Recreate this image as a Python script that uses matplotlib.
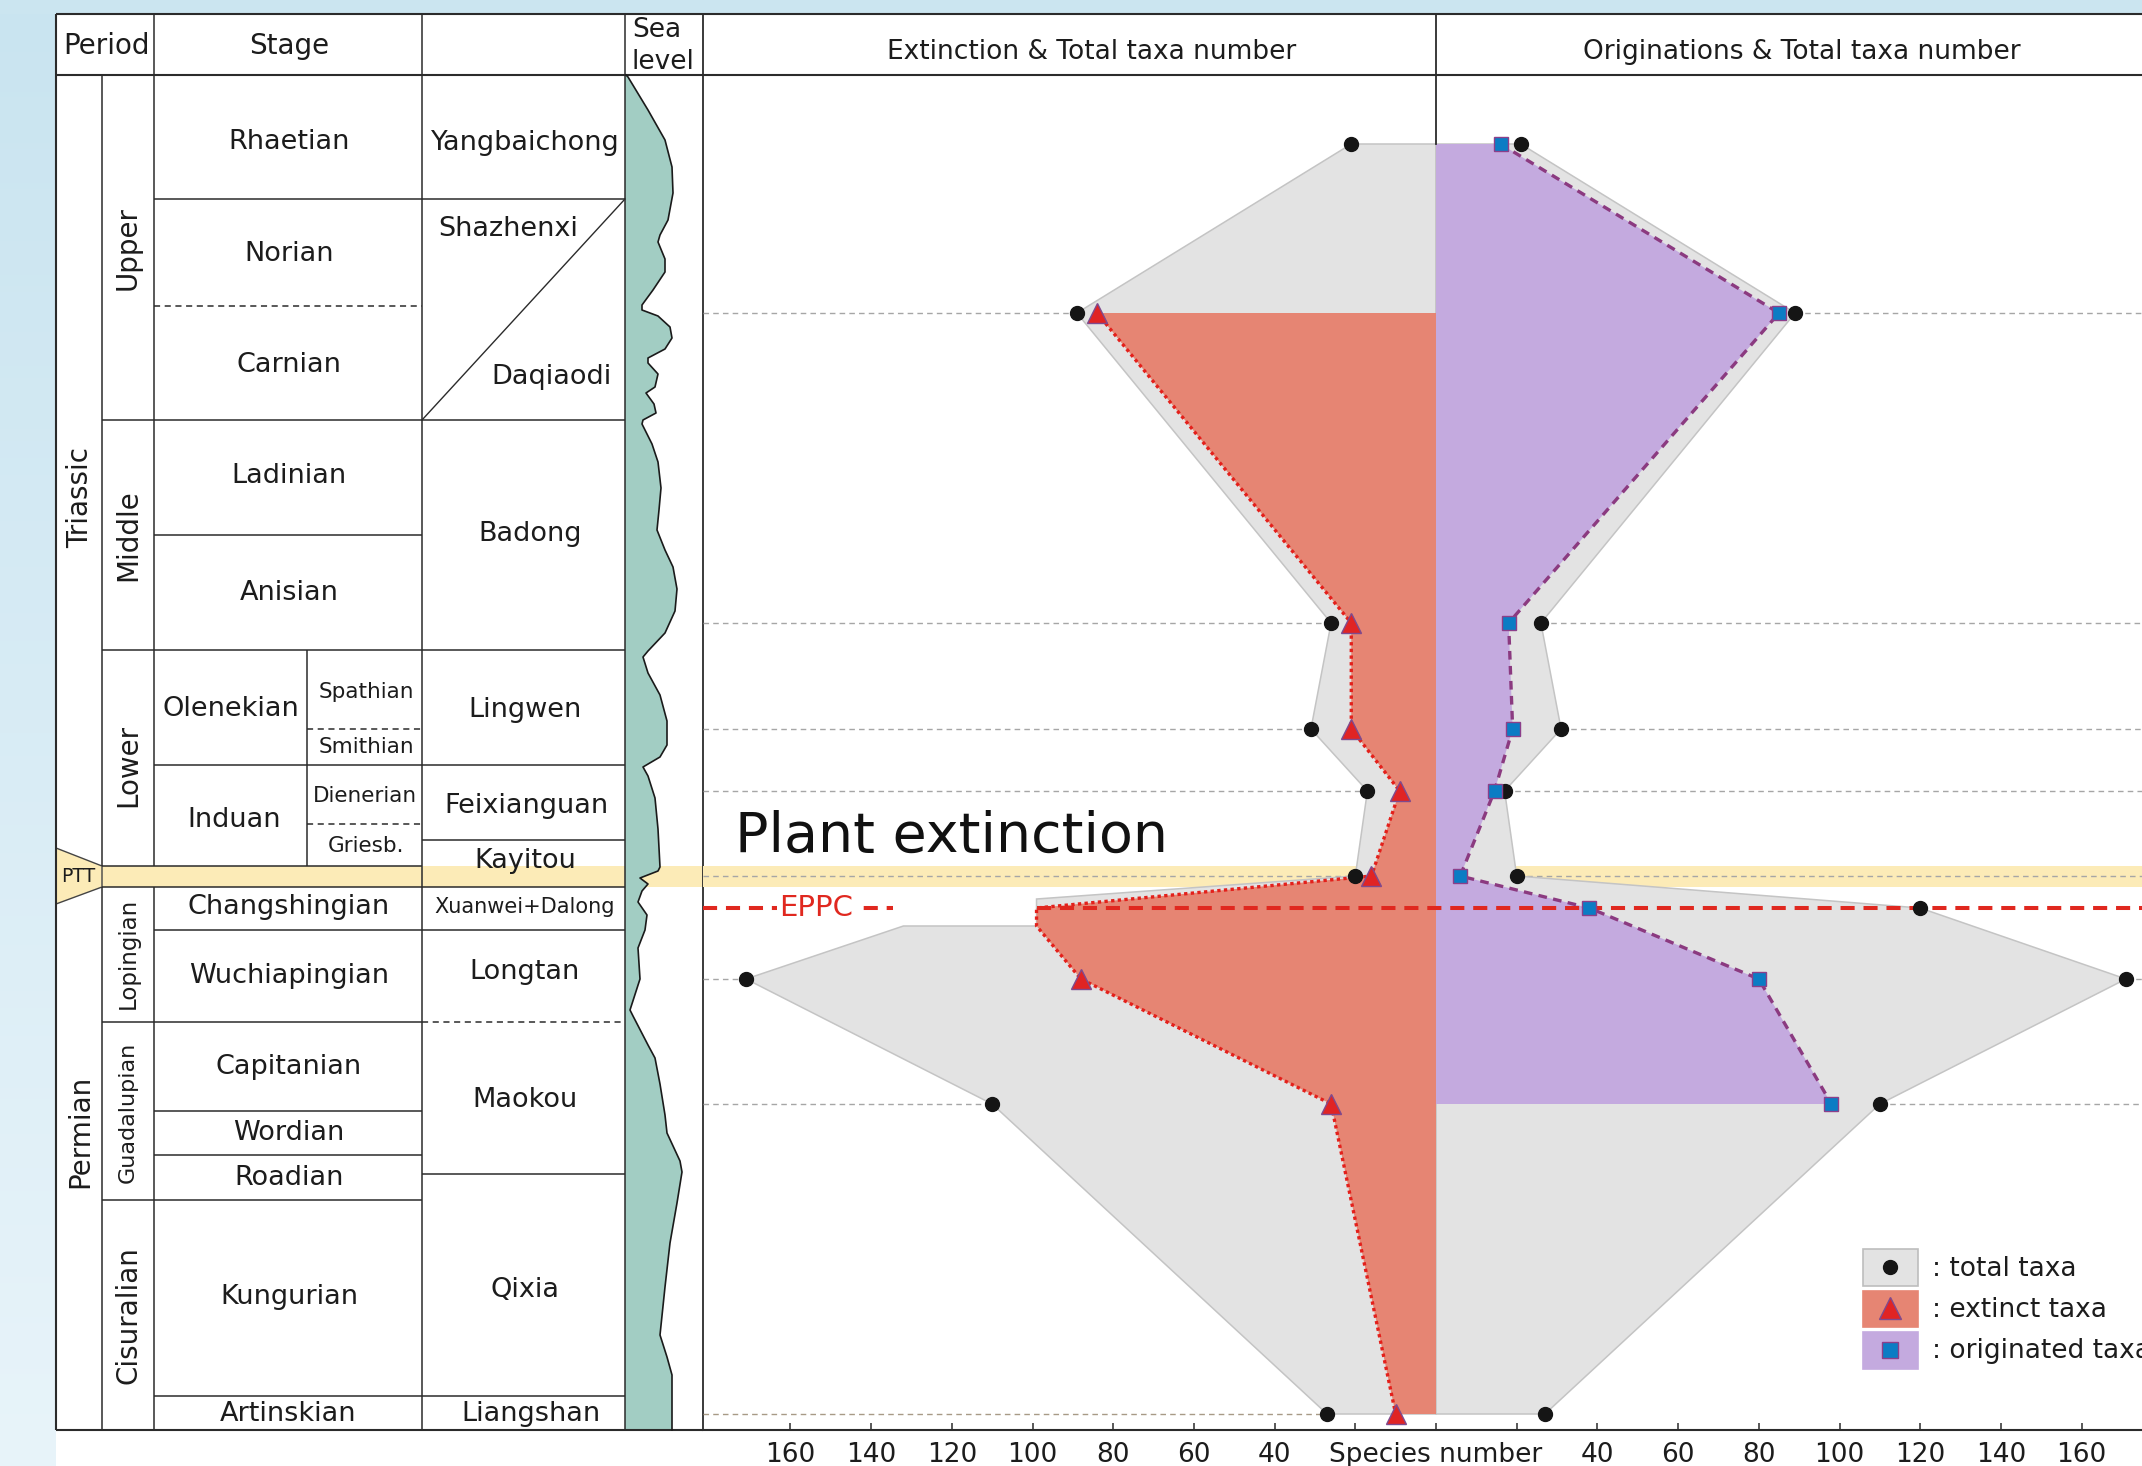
import matplotlib.pyplot as plt
import numpy as np
from matplotlib.colors import LinearSegmentedColormap
from matplotlib.patches import Polygon, Rectangle

plt.rcParams['font.family'] = 'DejaVu Sans'

W, H = 2142, 1466

# sampled horizons and their position in the stratigraphic column (top = 0)
horizons = ['Rhaetian', 'Carnian', 'Anisian', 'Smithian', 'Dienerian', 'PTB',
            'Changhsingian', 'Wuchiapingian', 'Capitanian', 'Artinskian']
levels = [144, 313, 623, 729, 791, 876, 908, 979, 1104, 1414]
total_taxa = [21, 89, 26, 31, 17, 20, 120, 171, 110, 27]
extinct_taxa = [np.nan, 84, 21, 21, 9, 16, 99, 88, 26, 10]
originated_taxa = [16, 85, 18, 19, 14.5, 6, 38, 80, 98, np.nan]

# left outline of the total-taxa field, stepping out through the Changhsingian
left_outline_levels = [144, 313, 623, 729, 791, 876, 899, 926, 926, 979, 1104, 1414]
left_outline_values = [21, 89, 26, 31, 17, 20, 99, 99, 132, 171, 110, 27]
changhsingian_base = 926

# sea-level curve in the sea-level column
sea_y = [75, 77, 110, 140, 167, 193, 220, 235, 242, 259, 272, 290, 305, 310, 316,
         327, 338, 349, 358, 363, 374, 387, 393, 404, 413, 420, 424, 444, 462, 488,
         510, 530, 550, 567, 589, 611, 633, 651, 657, 673, 695, 721, 745, 757, 767,
         776, 798, 829, 867, 871, 878, 884, 891, 902, 915, 930, 948, 979, 1010, 1016,
         1045, 1058, 1084, 1115, 1133, 1161, 1172, 1203, 1243, 1287, 1335, 1357, 1375,
         1430]
sea_x = [626, 628, 648, 665, 672, 673, 668, 660, 658, 665, 665, 653, 642, 642, 658,
         670, 672, 665, 648, 648, 658, 655, 646, 654, 656, 643, 642, 652, 658, 661,
         659, 657, 665, 673, 677, 675, 665, 648, 643, 648, 660, 667, 667, 660, 643,
         648, 655, 658, 660, 658, 640, 648, 642, 638, 647, 645, 638, 640, 630, 633,
         648, 655, 660, 665, 667, 680, 682, 677, 670, 665, 660, 667, 672, 672]

stage_labels = [('Rhaetian', 289, 142), ('Norian', 289, 254), ('Carnian', 289, 365),
                ('Ladinian', 289, 476), ('Anisian', 289, 593), ('Olenekian', 231, 709),
                ('Induan', 234, 820), ('Changshingian', 289, 907),
                ('Wuchiapingian', 289, 976), ('Capitanian', 289, 1067),
                ('Wordian', 289, 1133), ('Roadian', 289, 1178),
                ('Kungurian', 289, 1297), ('Artinskian', 288, 1414)]
substage_labels = [('Spathian', 366, 692), ('Smithian', 366, 747),
                   ('Dienerian', 365, 796), ('Griesb.', 366, 846)]
formation_labels = [('Yangbaichong', 525, 143), ('Shazhenxi', 508, 229),
                    ('Daqiaodi', 552, 377), ('Badong', 530, 534), ('Lingwen', 525, 710),
                    ('Feixianguan', 526, 806), ('Kayitou', 525, 861),
                    ('Longtan', 525, 972), ('Maokou', 525, 1100), ('Qixia', 525, 1290),
                    ('Liangshan', 531, 1414)]
series_labels = [('Upper', 248, 20), ('Middle', 535, 20), ('Lower', 765, 20),
                 ('Lopingian', 953, 16.5), ('Guadalupian', 1112, 16), ('Cisuralian', 1315, 20)]
period_labels = [('Triassic', 497), ('Permian', 1131)]

INK = '#1c1c1c'
LINE = '#2b2b2b'
GREY_FILL = '#e3e3e3'
RED_FILL = '#e68573'
PURPLE_FILL = '#c4aadf'
PTT = '#fcebb7'
TEAL = '#a2cdc3'

fig = plt.figure(figsize=(W / 100, H / 100), dpi=100)

# ---------- background, stratigraphic table, sea level ----------
bg = fig.add_axes([0, 0, 1, 1])
bg.axis('off')
edge_cmap = LinearSegmentedColormap.from_list('edge', ['#c9e4f0', '#e8f4fa'])
bg.imshow(np.linspace(0, 1, 256)[:, None], cmap=edge_cmap, extent=(0, 56, H, 0),
          aspect='auto', zorder=0)
bg.add_patch(Rectangle((0, 0), W, 14, color='#cbe5f0', lw=0, zorder=0))
bg.set_xlim(0, W)
bg.set_ylim(H, 0)

X_TAB, X_SER, X_STG, X_SUB, X_FM, X_SEA, X_CH, X_MID = 56, 102, 154, 307, 422, 625, 703, 1436
Y_TOP, Y_HEAD, Y_BOT = 14, 75, 1430
PTT_TOP, PTT_BOT = 866, 887

bg.add_patch(Rectangle((X_SER, PTT_TOP), X_CH - X_SER, PTT_BOT - PTT_TOP, color=PTT, lw=0, zorder=1))
bg.add_patch(Polygon([(X_TAB, 848), (X_SER, PTT_TOP), (X_SER, PTT_BOT), (X_TAB, 904)],
                     closed=True, fc=PTT, ec='#444444', lw=1.0, zorder=2))
bg.text(61, 877, 'PTT', fontsize=13.5, va='center', ha='left', color=INK, zorder=5)


def hline(y, x0, x1, dashed=False, lw=1.1):
    bg.plot([x0, x1], [y, y], color=LINE, lw=lw, ls=(0, (4, 3)) if dashed else '-',
            solid_capstyle='butt', zorder=3)


def vline(x, y0, y1, lw=1.1):
    bg.plot([x, x], [y0, y1], color=LINE, lw=lw, solid_capstyle='butt', zorder=3)


# outer frame and header rule
hline(Y_TOP, X_TAB, W, lw=1.5)
hline(Y_HEAD, X_TAB, W, lw=1.5)
hline(Y_BOT, X_TAB, X_CH, lw=1.5)
vline(X_TAB, Y_TOP, Y_BOT, lw=1.5)
vline(X_SER, Y_HEAD, PTT_TOP)
vline(X_SER, PTT_BOT, Y_BOT)
vline(X_STG, Y_TOP, PTT_TOP)
vline(X_STG, PTT_BOT, Y_BOT)
vline(X_SUB, 650, PTT_TOP)
vline(X_FM, Y_TOP, Y_BOT)
vline(X_SEA, Y_TOP, Y_BOT)
vline(X_CH, Y_TOP, Y_BOT, lw=1.3)
vline(X_MID, Y_TOP, Y_HEAD, lw=1.3)

for y in [420, 650, PTT_TOP, PTT_BOT, 1022, 1200]:
    hline(y, X_SER, X_STG)
for y in [199, 420, 535, 650, 765, PTT_TOP, PTT_BOT, 930, 1022, 1111, 1155, 1200, 1396]:
    hline(y, X_STG, X_FM)
hline(306, X_STG, X_FM, dashed=True)
for y in [729, 824]:
    hline(y, X_SUB, X_FM, dashed=True)
for y in [199, 420, 650, 765, 840, PTT_BOT, 930, 1174, 1396]:
    hline(y, X_FM, X_SEA)
hline(1022, X_FM, X_SEA, dashed=True)
bg.plot([X_SEA, X_FM], [199, 420], color=LINE, lw=1.0, zorder=3)

# sea-level curve
sea_poly = [(X_SEA, sea_y[0])] + list(zip(sea_x, sea_y)) + [(X_SEA, sea_y[-1])]
bg.add_patch(Polygon(sea_poly, closed=True, fc=TEAL, ec='none', zorder=2))
bg.plot(sea_x, sea_y, color='#1a1a1a', lw=1.2, zorder=3)

# table text
txt = dict(color=INK, ha='center', va='center', zorder=5)
bg.text(106, 46, 'Period', fontsize=20, **txt)
bg.text(289, 46, 'Stage', fontsize=20, **txt)
bg.text(632, 30, 'Sea', fontsize=19, color=INK, ha='left', va='center')
bg.text(632, 62, 'level', fontsize=19, color=INK, ha='left', va='center')
for name, x, y in stage_labels:
    bg.text(x, y, name, fontsize=19.5, **txt)
for name, x, y in substage_labels:
    bg.text(x, y, name, fontsize=15.5, **txt)
for name, x, y in formation_labels:
    bg.text(x, y, name, fontsize=19.5, **txt)
bg.text(525, 907, 'Xuanwei+Dalong', fontsize=15, **txt)
for name, y, fs in series_labels:
    bg.text(128, y, name, fontsize=fs, rotation=90, **txt)
for name, y in period_labels:
    bg.text(80, y, name, fontsize=20, rotation=90, **txt)

# chart header
bg.text(1092, 52, 'Extinction & Total taxa number', fontsize=19, **txt)
bg.text(1802, 52, 'Originations & Total taxa number', fontsize=19, **txt)
bg.text(X_MID, 1442, 'Species number', fontsize=19, color=INK, ha='center', va='top')
bg.text(735, 852, 'Plant extinction', fontsize=40, color='#111111', ha='left', va='baseline')

# legend
legend_rows = [(1249, 1286, GREY_FILL, '#bdbdbd', ': total taxa'),
               (1291, 1327, RED_FILL, RED_FILL, ': extinct taxa'),
               (1332, 1369, PURPLE_FILL, PURPLE_FILL, ': originated taxa')]
for (y0, y1, fc, ec, label) in legend_rows:
    bg.add_patch(Rectangle((1863, y0), 55, y1 - y0, fc=fc, ec=ec, lw=1.2, zorder=4))
    bg.text(1932, (y0 + y1) / 2 + 1, label, fontsize=19, color=INK, ha='left', va='center', zorder=5)
bg.plot(1890, 1267, 'o', ms=10, color='#151515', zorder=6)
bg.plot(1890, 1308, '^', ms=16, mfc='#e02424', mec='#7e4a8e', mew=1.0, zorder=6)
bg.plot(1890, 1350, 's', ms=11, mfc='#0b7cc4', mec='#8c3f8a', mew=1.0, zorder=6)

# ---------- species-number chart ----------
px_per_unit = 4.035
xmin = (X_CH - X_MID) / px_per_unit
xmax = (W - X_MID) / px_per_unit
ax = fig.add_axes([X_CH / W, (H - Y_BOT) / H, (W - X_CH) / W, (Y_BOT - Y_HEAD) / H])
ax.set_xlim(xmin, xmax)
ax.set_ylim(Y_BOT, Y_HEAD)
ax.set_facecolor('none')
for side in ['top', 'left', 'right']:
    ax.spines[side].set_visible(False)
ax.spines['bottom'].set_linewidth(1.5)
ax.spines['bottom'].set_color(LINE)
ticks = list(range(-160, 161, 20))
ax.set_xticks(ticks)
ax.set_xticklabels([str(abs(t)) if abs(t) >= 40 else '' for t in ticks])
ax.tick_params(axis='x', direction='in', length=5, width=1.1, pad=9,
               labelsize=19, colors=LINE, labelcolor=INK)
ax.set_yticks([])

lev = np.array(levels, float)
tot = np.array(total_taxa, float)
ext = np.array(extinct_taxa, float)
org = np.array(originated_taxa, float)
chang = horizons.index('Changhsingian')

ax.axhspan(PTT_TOP, PTT_BOT, color=PTT, lw=0, zorder=0)

# guide lines from the frame to the total-taxa markers
for i in range(1, len(levels)):
    if i == chang:
        continue
    col = '#a89a86' if i == len(levels) - 1 else '#a6a6a6'
    ax.plot([xmin, -tot[i]], [lev[i], lev[i]], color=col, lw=1.0, ls=(0, (4, 3)), zorder=1)
    if i < len(levels) - 1:
        ax.plot([tot[i], xmax], [lev[i], lev[i]], color=col, lw=1.0, ls=(0, (4, 3)), zorder=1)

# total taxa fields
right_field = [(0, lev[0])] + list(zip(tot, lev)) + [(0, lev[-1])]
left_field = ([(0, left_outline_levels[0])]
              + [(-v, l) for v, l in zip(left_outline_values, left_outline_levels)]
              + [(0, left_outline_levels[-1])])
for poly in (left_field, right_field):
    ax.add_patch(Polygon(poly, closed=True, fc=GREY_FILL, ec='#c4c4c4', lw=1.1, zorder=2))

# extinct taxa
m = ~np.isnan(ext)
ext_lev = list(lev[m])
ext_val = list(ext[m])
k = ext_lev.index(lev[chang]) + 1
ext_lev.insert(k, changhsingian_base)
ext_val.insert(k, ext_val[k - 1])
ext_val = np.array(ext_val)
ax.add_patch(Polygon([(0, ext_lev[0])] + list(zip(-ext_val, ext_lev)) + [(0, ext_lev[-1])],
                     closed=True, fc=RED_FILL, ec='none', zorder=3))
ax.plot(-ext_val, ext_lev, color='#e3201b', lw=2.4, ls=(0, (1, 1)), zorder=4)

# originated taxa
mo = ~np.isnan(org)
ax.add_patch(Polygon([(0, lev[mo][0])] + list(zip(org[mo], lev[mo])) + [(0, lev[mo][-1])],
                     closed=True, fc=PURPLE_FILL, ec='none', zorder=3))
ax.plot(org[mo], lev[mo], color='#8b3a80', lw=2.4, ls=(0, (2.6, 1.9)), zorder=4)

# centre line above the fields
ax.plot([0, 0], [Y_HEAD, lev[0]], color=LINE, lw=1.3, zorder=4, clip_on=False)

# EPPC level
eppc = lev[chang]
ax.plot([-99, xmax], [eppc, eppc], color='#e0281f', lw=2.9, ls=(0, (3.5, 2.2)), zorder=4.5)
ax.plot([xmin, (893 - X_MID) / px_per_unit], [eppc, eppc], color='#e0281f', lw=2.9,
        ls=(0, (3.5, 2.2)), zorder=4.5)
ax.text((816 - X_MID) / px_per_unit, eppc, 'EPPC', fontsize=21, color='#e0281f',
        ha='center', va='center', zorder=5,
        bbox=dict(fc='white', ec='none', pad=1.5))

# markers
mk = np.array([i != chang for i in range(len(levels))])
ax.plot(-tot[mk], lev[mk], 'o', ms=10, color='#151515', zorder=6)
ax.plot(tot, lev, 'o', ms=10, color='#151515', zorder=6)
me = m & mk
ax.plot(-ext[me], lev[me], '^', ms=14, mfc='#e02424', mec='#7e4a8e', mew=1.0, zorder=6)
ax.plot(org[mo], lev[mo], 's', ms=10, mfc='#0b7cc4', mec='#8c3f8a', mew=1.0, zorder=6)

fig.savefig('out.png', dpi=100)
